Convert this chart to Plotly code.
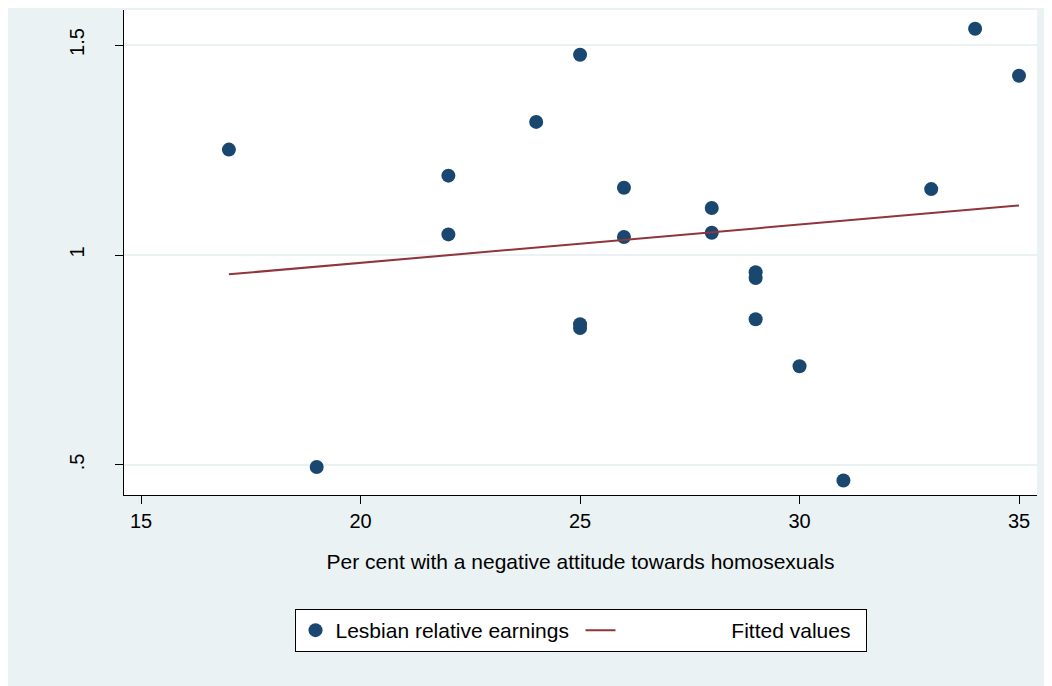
import plotly.graph_objects as go

# Data
attitude = [17, 19, 22, 22, 24, 25, 25, 25, 26, 26, 28, 28, 29, 29, 29, 30, 31, 33, 34, 35]
earnings = [1.251, 0.495, 1.189, 1.049, 1.317, 1.477, 0.835, 0.826, 1.160, 1.043,
            1.112, 1.053, 0.959, 0.945, 0.847, 0.735, 0.463, 1.157, 1.539, 1.427]
fit_x = [17, 35]
fit_y = [0.954, 1.118]

x_ticks = [15, 20, 25, 30, 35]
y_ticks = [0.5, 1.0, 1.5]
y_ticktext = [".5", "1", "1.5"]

BG = "#EAF2F3"
NAVY = "#1A476F"
MAROON = "#90353B"
FONT = "Liberation Sans, Arial, sans-serif"
NB = "\u00a0"

# page has an 8px body margin; figure sits at (8, 8)
W, H = 1044, 678
L, R, T, B = 116, 15, 2, 191
ph = H - T - B

fig = go.Figure()
fig.add_trace(go.Scatter(
    x=attitude, y=earnings, mode="markers", name="Lesbian relative earnings",
    marker=dict(color=NAVY, size=14, line=dict(width=0)),
))
fig.add_trace(go.Scatter(
    x=fit_x, y=fit_y, mode="lines", name=NB * 19 + "Fitted values",
    line=dict(color=MAROON, width=2),
))

fig.update_layout(
    width=W, height=H,
    margin=dict(l=L, r=R, t=T, b=B),
    paper_bgcolor=BG, plot_bgcolor="white",
    font=dict(family=FONT, size=20, color="black"),
    showlegend=True,
    legend=dict(
        orientation="h", x=0.5, xanchor="center", y=-114 / ph, yanchor="top",
        bgcolor="white", bordercolor="black", borderwidth=1,
        font=dict(size=21), entrywidth=240,
    ),
    xaxis=dict(
        range=[14.61, 35.41], tickvals=x_ticks, showgrid=False, zeroline=False,
        showline=True, linecolor="black", linewidth=1,
        ticks="outside", ticklen=8, tickcolor="black",
        title=dict(text="Per cent with a negative attitude towards homosexuals",
                   font=dict(size=21), standoff=23),
        tickfont=dict(size=20),
    ),
    yaxis=dict(
        range=[0.4284, 1.5835], tickvals=y_ticks, ticktext=y_ticktext,
        showgrid=True, gridcolor=BG, gridwidth=2, zeroline=False,
        showline=True, linecolor="black", linewidth=1,
        ticks="outside", ticklen=8, tickcolor="black",
        tickangle=-90, tickfont=dict(size=20), ticklabelstandoff=23,
    ),
)

fig.write_html("out.html")
